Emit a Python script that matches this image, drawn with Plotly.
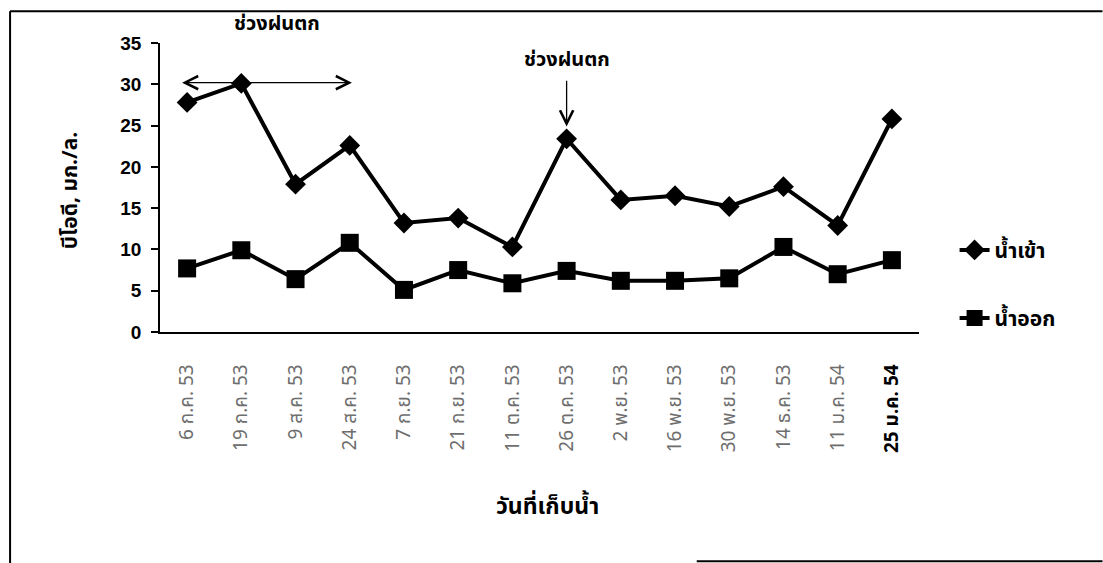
import plotly.graph_objects as go

dates = ["6 ก.ค. 53", "19 ก.ค. 53", "9 ส.ค. 53", "24 ส.ค. 53", "7 ก.ย. 53",
         "21 ก.ย. 53", "11 ต.ค. 53", "26 ต.ค. 53", "2 พ.ย. 53", "16 พ.ย. 53",
         "30 พ.ย. 53", "14 ธ.ค. 53", "11 ม.ค. 54", "25 ม.ค. 54"]
inflow = [27.8, 30.1, 17.9, 22.6, 13.2, 13.8, 10.3, 23.4, 16.0, 16.5, 15.2, 17.6, 12.9, 25.8]
outflow = [7.7, 9.9, 6.4, 10.8, 5.1, 7.5, 5.9, 7.4, 6.2, 6.2, 6.5, 10.3, 7.0, 8.7]
y_ticks = [0, 5, 10, 15, 20, 25, 30, 35]

name_in = "น้ำเข้า"
name_out = "น้ำออก"
y_title = "บีโอดี, มก./ล."
x_title = "วันที่เก็บน้ำ"
rain_label = "ช่วงฝนตก"

THAI = "Noto Sans Thai, Tahoma, Noto Sans, DejaVu Sans, sans-serif"
NUM = "Liberation Sans, Arial, sans-serif"

W, H = 1103, 563
L, R, T, B = 160, 919.4, 42.7, 331.7

def px(x):
    return (x - L) / (R - L)

def py(y):
    return (B - y) / (B - T)

idx = list(range(len(dates)))

fig = go.Figure()
fig.add_trace(go.Scatter(
    x=idx, y=inflow, name=name_in, mode="lines+markers",
    line=dict(color="black", width=4),
    marker=dict(symbol="diamond", size=16, color="black"),
    legend="legend", cliponaxis=False,
))
fig.add_trace(go.Scatter(
    x=idx, y=outflow, name=name_out, mode="lines+markers",
    line=dict(color="black", width=4),
    marker=dict(symbol="square", size=18, color="black"),
    legend="legend2", cliponaxis=False,
))

ticktext = [f"<span style='color:#6e6e6e'>{d}</span>" for d in dates[:-1]] + \
           [f"<b>{dates[-1]}</b>"]

legend_font = dict(family=THAI, size=21, color="black", weight="bold")

fig.update_layout(
    width=W, height=H,
    margin=dict(l=L, r=W - R, t=T, b=H - B, autoexpand=False),
    paper_bgcolor="white", plot_bgcolor="white",
    showlegend=True,
    xaxis=dict(
        range=[-0.5, len(dates) - 0.5],
        tickmode="array", tickvals=idx, ticktext=ticktext,
        tickangle=-90, tickfont=dict(family=THAI, size=19, color="black"),
        showline=True, linecolor="black", linewidth=1.5,
        showgrid=False, zeroline=False, ticks="",
        ticklabelstandoff=23,
    ),
    yaxis=dict(
        range=[0, 35], tickvals=y_ticks,
        tickfont=dict(family=NUM, size=19, color="black", weight="bold"),
        showline=True, linecolor="black", linewidth=1.5,
        ticks="outside", ticklen=7, tickcolor="black", tickwidth=1.5,
        showgrid=False, zeroline=False,
        ticklabelstandoff=6,
    ),
    legend=dict(x=px(955), y=py(250), xanchor="left", yanchor="middle",
                font=legend_font, bgcolor="rgba(0,0,0,0)", itemwidth=30),
    legend2=dict(x=px(955), y=py(318), xanchor="left", yanchor="middle",
                 font=legend_font, bgcolor="rgba(0,0,0,0)", itemwidth=30),
)

def label(x, y, text, size, angle=0):
    fig.add_annotation(x=px(x), y=py(y), xref="paper", yref="paper", text=f"<b>{text}</b>",
                       xanchor="center", yanchor="middle", textangle=angle,
                       showarrow=False, font=dict(family=THAI, size=size, color="black"))

# axis titles
label(70, 190, y_title, 21, angle=-90)
label(548, 507, x_title, 23)

# outer frame
fig.add_shape(type="line", xref="paper", yref="paper", x0=px(10), x1=px(10), y0=py(11), y1=py(563),
              line=dict(color="black", width=2))
fig.add_shape(type="line", xref="paper", yref="paper", x0=px(10), x1=px(1103), y0=py(11), y1=py(11),
              line=dict(color="black", width=2))
fig.add_shape(type="line", xref="paper", yref="paper", x0=px(697), x1=px(1103), y0=py(561), y1=py(561),
              line=dict(color="black", width=2))

# rain period annotations
label(277, 24, rain_label, 20)
fig.add_annotation(x=3.04, y=30.2, ax=-0.12, ay=30.2, xref="x", yref="y", axref="x", ayref="y",
                   text="", showarrow=True, arrowhead=5, arrowside="end+start",
                   arrowsize=2, arrowwidth=1.3, arrowcolor="black")
label(567, 60, rain_label, 20)
fig.add_annotation(x=7.0, y=24.9, ax=7.0, ay=30.6, xref="x", yref="y", axref="x", ayref="y",
                   text="", showarrow=True, arrowhead=5, arrowside="end",
                   arrowsize=2, arrowwidth=1.3, arrowcolor="black")

fig.write_html("out.html")
